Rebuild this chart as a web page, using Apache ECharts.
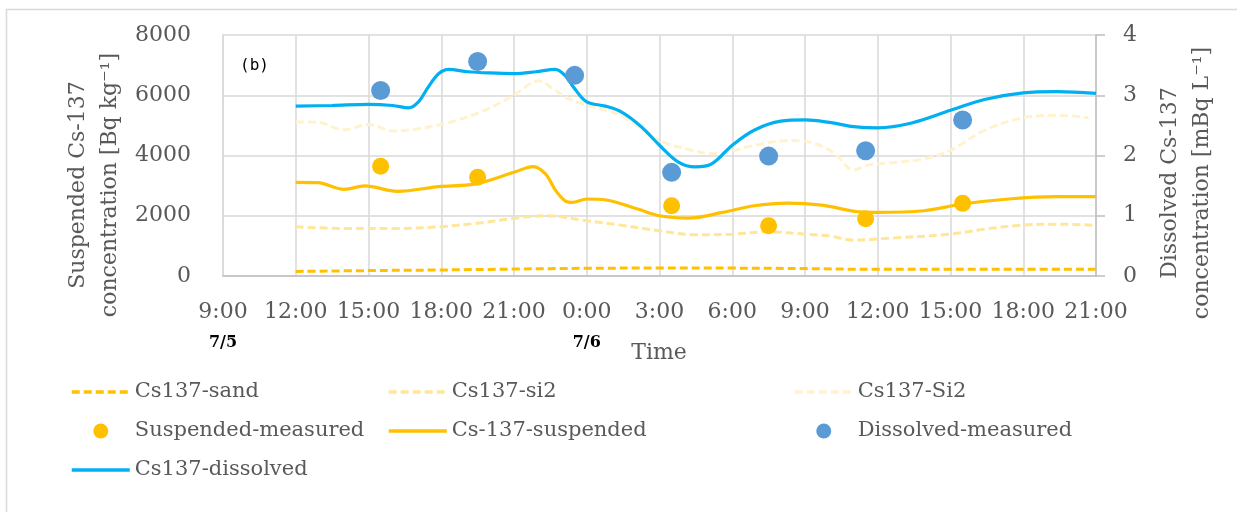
<!DOCTYPE html>
<html>
<head>
<meta charset="utf-8">
<script src="https://cdn.jsdelivr.net/npm/echarts@6/dist/echarts.min.js"></script>
<style>
  html, body { margin: 0; padding: 0; background: #ffffff; }
  #chart { width: 1237px; height: 512px; }
</style>
</head>
<body>
<div id="chart"></div>
<script>
// Time axis: hours elapsed since 9:00 on 7/5
const tickLabels = ['9:00', '12:00', '15:00', '18:00', '21:00', '0:00', '3:00', '6:00', '9:00', '12:00', '15:00', '18:00', '21:00'];
const dateLabels = ['7/5', '', '', '', '', '7/6', '', '', '', '', '', '', ''];
const leftTicks = [0, 2000, 4000, 6000, 8000];
const rightTicks = [0, 1, 2, 3, 4];

// Cs137-sand (Bq/kg)
const sandHours  = [3, 6, 9, 12, 15, 18, 21, 24, 27, 30, 33, 36];
const sandValues = [150, 180, 200, 230, 255, 265, 262, 245, 220, 222, 228, 228];

// Cs137-si2 (Bq/kg)
const si2Hours  = [3, 5, 7.2, 8.9, 10.4, 12, 13.3, 15, 16.4, 18, 19.5, 21, 22.5, 24, 25, 26, 27.5, 30, 31.4, 33, 34.4, 36];
const si2Values = [1633, 1578, 1578, 1633, 1744, 1911, 2000, 1833, 1689, 1500, 1367, 1389, 1467, 1389, 1330, 1190, 1256, 1389, 1556, 1689, 1722, 1680];

// Cs137-Si2 (Bq/kg)
const siUpHours  = [3, 3.9, 5, 6, 7, 8.06, 9.4, 10.8, 12, 13, 13.7, 14.1, 15, 16.4, 18, 19.5, 20.3, 21.9, 23.3, 24.3, 25.2, 26, 26.6, 27.6, 28.9, 30, 31.4, 33, 34.4, 35.7];
const siUpValues = [5111, 5100, 4856, 5033, 4811, 4889, 5111, 5500, 6000, 6478, 6167, 5944, 5667, 5333, 4500, 4144, 4056, 4333, 4500, 4420, 4080, 3520, 3680, 3760, 3889, 4167, 4833, 5256, 5333, 5256];

// Suspended-measured (Bq/kg)
const suspMeasHours  = [6.5, 10.5, 18.5, 22.5, 26.5, 30.5];
const suspMeasValues = [3644, 3278, 2333, 1667, 1900, 2411];

// Cs-137-suspended (Bq/kg)
const suspHours  = [3, 3.9, 5, 5.85, 7.2, 8.9, 10.4, 12, 12.8, 13.3, 13.7, 14.1, 14.4, 15, 15.8, 17.1, 18, 19.2, 20.6, 21.9, 23.3, 24.7, 26.2, 27, 28.9, 30.5, 32.4, 34.4, 36];
const suspValues = [3111, 3100, 2878, 2989, 2811, 2967, 3056, 3444, 3633, 3389, 2860, 2500, 2444, 2556, 2522, 2222, 2000, 1922, 2111, 2333, 2422, 2350, 2133, 2111, 2167, 2389, 2556, 2633, 2633];

// Dissolved-measured (mBq/L)
const dissMeasHours  = [6.5, 10.5, 14.5, 18.5, 22.5, 26.5, 30.5];
const dissMeasValues = [3.08, 3.56, 3.33, 1.72, 1.99, 2.08, 2.59];

// Cs137-dissolved (mBq/L)
const dissHours  = [3, 4.5, 6, 7, 7.65, 8.06, 8.47, 8.9, 9.3, 10.1, 11, 12, 12.9, 13.7, 14.1, 14.5, 15, 15.76, 16.44, 17.27, 18, 18.78, 19.47, 20.15, 21, 21.9, 23, 24, 25, 26, 27, 28.4, 30, 31.4, 33, 34.4, 36];
const dissValues = [2.82, 2.83, 2.85, 2.83, 2.79, 2.89, 3.14, 3.36, 3.43, 3.39, 3.37, 3.36, 3.39, 3.43, 3.33, 3.11, 2.89, 2.82, 2.72, 2.47, 2.17, 1.89, 1.81, 1.86, 2.17, 2.42, 2.57, 2.59, 2.55, 2.48, 2.46, 2.54, 2.75, 2.93, 3.04, 3.06, 3.03];

const zip = (xs, ys) => xs.map((x, i) => [x, ys[i]]);

const SERIF = 'DejaVu Serif';
const TEXT = '#595959';
const GRID = '#d9d9d9';
const AXIS = '#bfbfbf';

const chart = echarts.init(document.getElementById('chart'), null, { renderer: 'canvas' });

const legendCommon = {
  orient: 'vertical',
  padding: 0,
  itemGap: 17,
  itemWidth: 58,
  itemHeight: 15,
  selectedMode: false,
  textStyle: { fontFamily: SERIF, fontSize: 21, color: TEXT, lineHeight: 22 }
};

// legend entry for a line series: the stroke only, no marker
const lineEntry = (name) => ({ name, itemStyle: { opacity: 0 }, lineStyle: { width: 3.5 } });

const lineSeries = (name, hours, values, color, dashed, axis) => ({
  name,
  type: 'line',
  yAxisIndex: axis,
  data: zip(hours, values),
  smooth: 0.35,
  symbol: 'none',
  z: 2,
  lineStyle: { color, width: dashed ? 3 : 3.2, type: dashed ? [8, 4] : 'solid', cap: 'butt' },
  itemStyle: { color }
});

chart.setOption({
  animation: false,
  backgroundColor: '#ffffff',
  grid: { left: 223, right: 141, top: 35, bottom: 236, containLabel: false, outerBoundsMode: 'none' },
  xAxis: {
    type: 'value',
    min: 0,
    max: 36,
    interval: 3,
    axisLine: { show: true, lineStyle: { color: AXIS, width: 1.5 } },
    axisTick: { show: false },
    splitLine: { show: true, lineStyle: { color: GRID, width: 1.5 } },
    axisLabel: {
      margin: 21,
      showMinLabel: true,
      showMaxLabel: true,
      formatter: (v) => {
        const i = Math.round(v / 3);
        let s = '{t|' + tickLabels[i] + '}';
        if (dateLabels[i]) s += '\n{d|' + dateLabels[i] + '}';
        return s;
      },
      rich: {
        t: { fontFamily: SERIF, fontSize: 22, color: TEXT, lineHeight: 30 },
        d: { fontFamily: SERIF, fontSize: 16, fontWeight: 'bold', color: '#000000', lineHeight: 32 }
      }
    }
  },
  yAxis: [
    {
      type: 'value',
      min: leftTicks[0],
      max: leftTicks[leftTicks.length - 1],
      interval: 2000,
      position: 'left',
      axisLine: { show: true, lineStyle: { color: GRID, width: 1.5 } },
      axisTick: { show: false },
      splitLine: { show: true, lineStyle: { color: GRID, width: 1.5 } },
      axisLabel: { margin: 32, fontFamily: SERIF, fontSize: 22, color: TEXT, formatter: (v) => String(v) }
    },
    {
      type: 'value',
      min: rightTicks[0],
      max: rightTicks[rightTicks.length - 1],
      interval: 1,
      position: 'right',
      axisLine: { show: true, lineStyle: { color: AXIS, width: 1.5 } },
      axisTick: { show: true, inside: false, length: 9, lineStyle: { color: AXIS, width: 1.5 } },
      splitLine: { show: false },
      axisLabel: { margin: 27, fontFamily: SERIF, fontSize: 22, color: TEXT, formatter: (v) => String(v) }
    }
  ],
  legend: [
    Object.assign({ left: 70, top: 381, data: [lineEntry('Cs137-sand'), { name: 'Suspended-measured' }, lineEntry('Cs137-dissolved')] }, legendCommon),
    Object.assign({ left: 387, top: 381, data: [lineEntry('Cs137-si2'), lineEntry('Cs-137-suspended')] }, legendCommon),
    Object.assign({ left: 793, top: 381, data: [lineEntry('Cs137-Si2'), { name: 'Dissolved-measured' }] }, legendCommon)
  ],
  graphic: [
    {
      type: 'rect', silent: true, z: -10,
      shape: { x: 6.5, y: 9.5, width: 1250, height: 540 },
      style: { fill: 'none', stroke: GRID, lineWidth: 1.5 }
    },
    {
      type: 'text', silent: true, x: 94, y: 185, rotation: Math.PI / 2,
      style: {
        text: 'Suspended Cs-137\nconcentration [Bq kg\u207B\u00B9]',
        font: '22px "DejaVu Serif"', fill: TEXT, align: 'center', verticalAlign: 'middle', lineHeight: 32
      }
    },
    {
      type: 'text', silent: true, x: 1186, y: 183, rotation: Math.PI / 2,
      style: {
        text: 'Dissolved Cs-137\nconcentration [mBq L\u207B\u00B9]',
        font: '22px "DejaVu Serif"', fill: TEXT, align: 'center', verticalAlign: 'middle', lineHeight: 32
      }
    },
    {
      type: 'text', silent: true, x: 659, y: 353,
      style: { text: 'Time', font: '22px "DejaVu Serif"', fill: TEXT, align: 'center', verticalAlign: 'middle' }
    },
    {
      type: 'text', silent: true, x: 240, y: 66,
      style: { text: '(b)', font: '16px "DejaVu Sans Mono"', fill: '#000000', align: 'left', verticalAlign: 'middle' }
    }
  ],
  series: [
    lineSeries('Cs137-sand', sandHours, sandValues, '#FFC000', true, 0),
    lineSeries('Cs137-si2', si2Hours, si2Values, '#FFE699', true, 0),
    lineSeries('Cs137-Si2', siUpHours, siUpValues, '#FFF2CC', true, 0),
    {
      name: 'Suspended-measured', type: 'scatter', yAxisIndex: 0, z: 4,
      data: zip(suspMeasHours, suspMeasValues),
      symbol: 'circle', symbolSize: 17,
      itemStyle: { color: '#FFC000', opacity: 1 }
    },
    lineSeries('Cs-137-suspended', suspHours, suspValues, '#FFC000', false, 0),
    {
      name: 'Dissolved-measured', type: 'scatter', yAxisIndex: 1, z: 4,
      data: zip(dissMeasHours, dissMeasValues),
      symbol: 'circle', symbolSize: 19,
      itemStyle: { color: '#5B9BD5', opacity: 1 }
    },
    lineSeries('Cs137-dissolved', dissHours, dissValues, '#00B0F0', false, 1)
  ]
});
</script>
</body>
</html>
